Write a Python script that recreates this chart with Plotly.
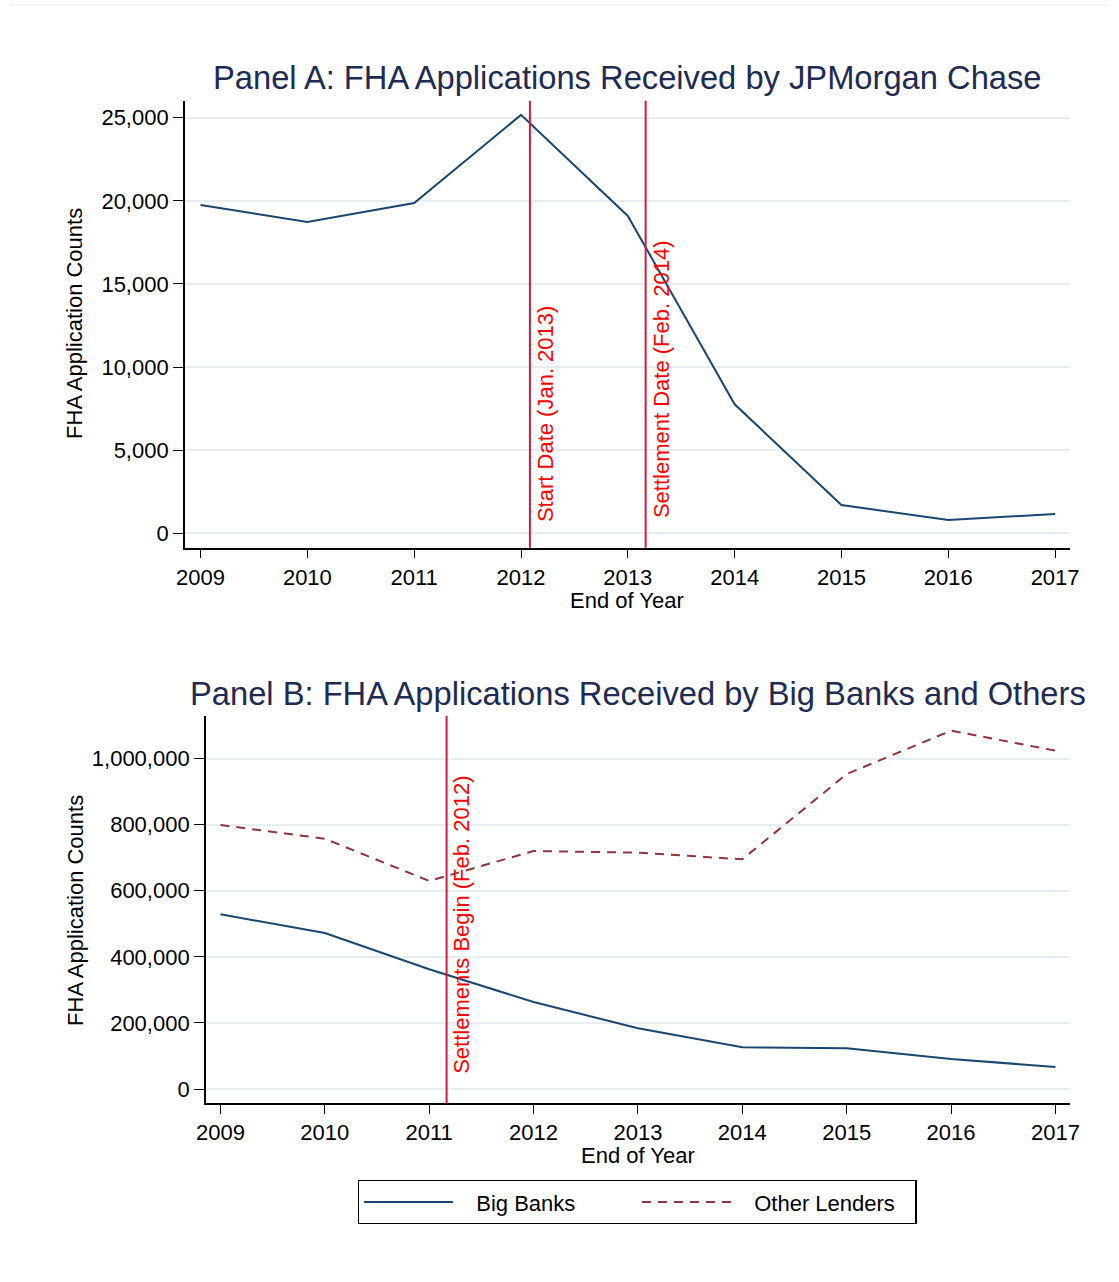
import plotly.graph_objects as go

# ---------------- data ----------------
years = [2009, 2010, 2011, 2012, 2013, 2014, 2015, 2016, 2017]
jpm_counts = [19750, 18730, 19870, 25170, 19090, 7760, 1700, 800, 1160]
big_banks = [528800, 472200, 362300, 263400, 183700, 126200, 123200, 90800, 66600]
other_lenders = [799200, 757700, 629700, 720500, 715300, 695300, 953500, 1084600, 1024100]

a_ticks = [0, 5000, 10000, 15000, 20000, 25000]
b_ticks = [0, 200000, 400000, 600000, 800000, 1000000]

a_events = [(2012 + 1/12, "Start Date (Jan. 2013)", 580),
            (2013 + 2/12, "Settlement Date (Feb. 2014)", 800)]
b_events = [(2011 + 2/12, "Settlements Begin (Feb. 2012)", 40000)]

series_names = ["Big Banks", "Other Lenders"]

# ---------------- styling ----------------
W, H = 1119, 1282
# measured horizontal mapping of the rendered page: screen_x = 9 + 0.983 * fig_x
X0, XS = 9.0, 0.983
FONT = "Liberation Sans, Arial, Helvetica, sans-serif"
NAVY = "#1a476f"
MAROON = "#90353b"
VLINE = "#cc1b40"
GRID = "#e7eef1"
TITLE = "#1e2b52"
FS = 22
NB = "\u00a0" * 3


def px(x):
    return ((x - X0) / XS) / W


def py(y):
    return 1 - y / H


fig = go.Figure()

fig.add_trace(go.Scatter(x=years, y=jpm_counts, mode="lines",
                         line=dict(color=NAVY, width=2), showlegend=False,
                         xaxis="x", yaxis="y"))
fig.add_trace(go.Scatter(x=years, y=big_banks, mode="lines", name=NB + series_names[0],
                         line=dict(color=NAVY, width=2),
                         xaxis="x2", yaxis="y2"))
fig.add_trace(go.Scatter(x=years, y=other_lenders, mode="lines", name=NB + series_names[1],
                         line=dict(color=MAROON, width=2, dash="9px,7px"),
                         xaxis="x2", yaxis="y2"))

common_x = dict(tickvals=years, ticks="outside", ticklen=9, tickwidth=1.2, tickcolor="black",
                showline=True, linecolor="black", linewidth=1.5, showgrid=False,
                zeroline=False, tickfont=dict(size=FS, color="black", family=FONT))
common_y = dict(ticks="outside", ticklen=10, tickwidth=1.2, tickcolor="black",
                showline=True, linecolor="black", linewidth=1.5, showgrid=True,
                gridcolor=GRID, gridwidth=2, zeroline=False, tickformat=",d",
                tickfont=dict(size=FS, color="black", family=FONT))

shapes = []
annotations = []

for ref, ev_list, yr in (("", a_events, "y"), ("2", b_events, "y2")):
    for xv, label, ylab in ev_list:
        shapes.append(dict(type="line", xref="x" + ref, yref=yr + " domain",
                           x0=xv, x1=xv, y0=0, y1=1,
                           line=dict(color=VLINE, width=2)))
        annotations.append(dict(x=xv, y=ylab, xref="x" + ref, yref=yr,
                                text=label, textangle=-90, showarrow=False,
                                xanchor="left", yanchor="bottom", xshift=1,
                                font=dict(size=FS, color="#ff0000", family=FONT)))

# faint outer frame (top edge)
shapes.append(dict(type="line", xref="paper", yref="paper", x0=0, x1=1, y0=py(5), y1=py(5),
                   line=dict(color="#e6eded", width=1)))

# titles
for txt, xc, yc in (("Panel A: FHA Applications Received by JPMorgan Chase", 627, 78),
                    ("Panel B: FHA Applications Received by Big Banks and Others", 637.5, 693)):
    annotations.append(dict(x=px(xc), y=py(yc), xref="paper", yref="paper", text=txt,
                            showarrow=False, xanchor="center", yanchor="middle",
                            font=dict(size=32.7, color=TITLE, family=FONT)))
for xc, yc in ((627, 600), (637.5, 1155)):
    annotations.append(dict(x=px(xc), y=py(yc), xref="paper", yref="paper", text="End of Year",
                            showarrow=False, xanchor="center", yanchor="middle",
                            font=dict(size=FS, color="black", family=FONT)))
for yc in (323, 910):
    annotations.append(dict(x=px(74), y=py(yc), xref="paper", yref="paper",
                            text="FHA Application Counts", textangle=-90,
                            showarrow=False, xanchor="center", yanchor="middle",
                            font=dict(size=FS, color="black", family=FONT)))

fig.update_layout(
    width=W, height=H,
    margin=dict(l=0, r=0, t=0, b=0),
    paper_bgcolor="white", plot_bgcolor="white",
    font=dict(family=FONT, color="black"),
    xaxis=dict(domain=[px(184), px(1070)], range=[2008.853, 2017.14], anchor="y", **common_x),
    yaxis=dict(domain=[py(547.7), py(100.7)], range=[-866, 26023], anchor="x",
               tickvals=a_ticks, **common_y),
    xaxis2=dict(domain=[px(205), px(1070)], range=[2008.86, 2017.14], anchor="y2", **common_x),
    yaxis2=dict(domain=[py(1103.3), py(715.7)], range=[-43300, 1130000], anchor="x2",
                tickvals=b_ticks, **common_y),
    shapes=shapes,
    annotations=annotations,
    legend=dict(orientation="h", x=px(357), y=py(1180), xanchor="left", yanchor="top",
                bordercolor="black", borderwidth=1.2, bgcolor="white",
                font=dict(size=FS, color="black", family=FONT),
                itemwidth=89, entrywidth=174, entrywidthmode="pixels",
                traceorder="normal"),
    showlegend=True,
)

fig.write_html("out.html")
